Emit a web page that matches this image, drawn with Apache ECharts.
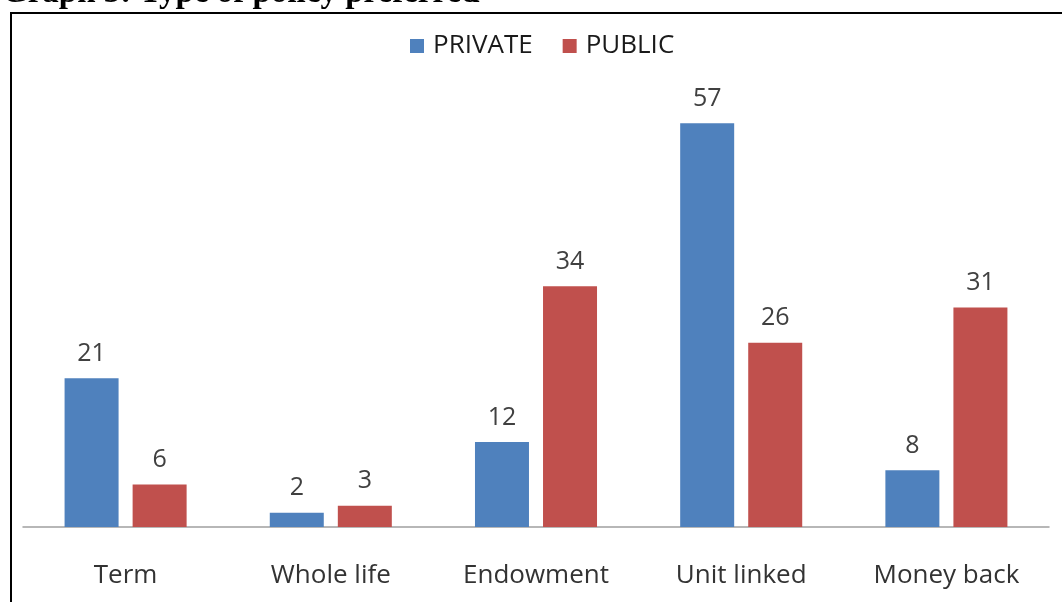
<!DOCTYPE html>
<html><head><meta charset="utf-8">
<script src="https://cdn.jsdelivr.net/npm/echarts@6/dist/echarts.min.js"></script>
<style>html,body{margin:0;padding:0;background:#fff}#c{width:1062px;height:602px}</style>
</head><body><div id="c"></div>
<script>
const categories = ['Term', 'Whole life', 'Endowment', 'Unit linked', 'Money back'];
const privateVals = [21, 2, 12, 57, 8];
const publicVals = [6, 3, 34, 26, 31];
const seriesNames = ['PRIVATE', 'PUBLIC'];
const titleText = 'Graph 3: Type of policy preferred';

const chart = echarts.init(document.getElementById('c'));
const font = '"Open Sans", Lato, sans-serif';
const label = {show: true, position: 'top', distance: 12, color: '#404040', fontSize: 25, fontFamily: font};
chart.setOption({
  animation: false,
  backgroundColor: '#fff',
  graphic: [
    {type: 'text', left: 2, top: -23, style: {text: titleText, font: 'bold 33px "Liberation Serif", serif', fill: '#000'}},
    {type: 'polyline', shape: {points: [[11, 602], [11, 13], [1062, 13]]}, style: {stroke: '#000', lineWidth: 2, fill: null}}
  ],
  legend: {
    top: 28, left: 405, itemWidth: 14, itemHeight: 14, itemGap: 30,
    icon: 'rect',
    textStyle: {fontSize: 26, color: '#1a1a1a', fontFamily: font, padding: [0, 0, 0, 4]}
  },
  grid: {left: 23, right: 13, top: 102, bottom: 75},
  xAxis: {
    type: 'category', data: categories,
    axisLine: {lineStyle: {color: '#a0a0a0', width: 1.5}},
    axisTick: {show: false},
    axisLabel: {fontSize: 26, color: '#333', margin: 36, fontFamily: font}
  },
  yAxis: {type: 'value', min: 0, max: 60, show: false, splitLine: {show: false}},
  series: [
    {name: seriesNames[0], type: 'bar', data: privateVals, barWidth: 54, barGap: '26%', itemStyle: {color: '#4F81BD'}, label},
    {name: seriesNames[1], type: 'bar', data: publicVals, barWidth: 54, itemStyle: {color: '#C0504D'}, label}
  ]
});
</script></body></html>
